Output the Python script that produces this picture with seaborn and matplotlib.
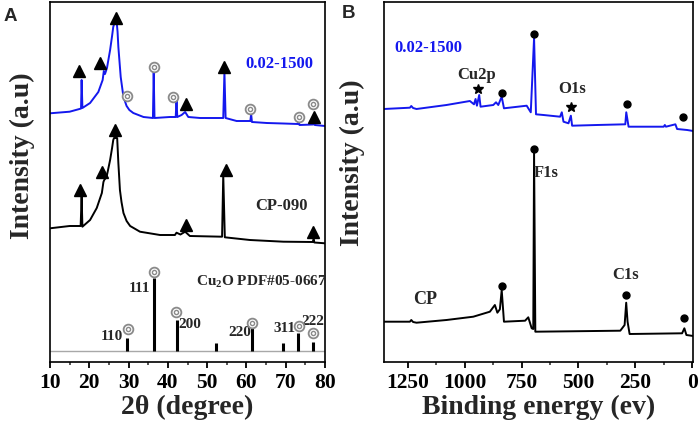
import seaborn as sns
import matplotlib.pyplot as plt
import pandas as pd

# ---- panel A : XRD ----
xrd_blue_2theta = [10, 15, 17.5, 17.9, 18.05, 18.25, 20.2, 22.3, 23.4, 23.7, 24.0, 24.5, 25.3, 25.8,
                   26.1, 26.4, 27.0, 27.2, 27.4, 28.0, 28.7, 29.5, 30.2, 31.2, 33.8, 36.2, 36.4, 36.6,
                   40.5, 42.0, 42.2, 42.4, 43.5, 44.4, 45.2, 48.2, 54.1, 54.4, 54.7, 57.5, 61.0, 61.2,
                   61.4, 65.2, 69.4, 73.1, 73.3, 73.5, 77.0, 77.2, 77.4, 80]
xrd_blue_int = [248.7, 250.3, 253, 253.5, 282, 254, 259, 270, 282, 291, 288, 294, 312, 326,
                335, 339, 339, 330, 315, 285, 265, 256, 252, 249, 245, 244, 290, 244,
                245, 245, 262, 245, 247, 250, 245, 244, 244, 290, 244, 241, 241, 248,
                240, 239, 238.5, 238, 241, 237, 237.5, 242, 237, 236]

xrd_black_2theta = [10, 15, 17.8, 18.05, 18.25, 20.2, 21.9, 23.2, 23.6, 23.8, 24.4, 25.3, 25.8, 26.1,
                    26.3, 27.1, 27.4, 27.8, 28.2, 28.7, 29.5, 30.4, 32.9, 38.0, 41.8, 42.2, 43.2,
                    44.4, 45.6, 53.8, 54.1, 54.5, 60.9, 69.4, 76.9, 77.1, 77.3, 80]
xrd_black_int = [133.7, 136, 136, 165.3, 135.3, 142, 154, 169, 180, 182, 185, 202, 214, 222,
                 224, 224, 199, 172, 160, 149, 141, 136, 130.3, 127, 127, 129.3, 127.5,
                 130.3, 126, 125.3, 187, 124.7, 122, 120.3, 120, 122.7, 119.5, 118.7]

pdf_2theta = [29.5, 36.5, 42.3, 52.3, 61.4, 69.2, 73.0, 76.9]
pdf_int = [24.3, 83.7, 42, 19, 35.3, 19, 29.3, 20.3]
pdf_base = 11
pdf_hkl = ["110", "111", "200", "220", "311", "222"]
pdf_hkl_x = [25.7, 32.9, 45.5, 58.2, 69.8, 76.9]
pdf_hkl_y = [25.3, 74, 37, 29, 34, 40.3]
pdf_circ_x = [29.9, 36.5, 42.0, 61.3, 73.4, 77.0]
pdf_circ_y = [33, 90.3, 49.7, 38.7, 36, 28.7]

blue_tri_x = [17.5, 22.7, 26.7, 44.6, 54.4, 77.2]
blue_tri_y = [291.3, 299.3, 344.5, 258, 295.3, 245.3]
blue_circ_x = [29.7, 36.5, 41.4, 60.9, 73.5, 77.0]
blue_circ_y = [266.3, 295.3, 265.3, 253, 244.7, 257.7]
black_tri_x = [17.6, 23.2, 26.5, 44.6, 54.7, 77.0]
black_tri_y = [172, 190, 232, 137, 192, 130.3]

# ---- panel B : XPS ----
xps_blue_ev = [1357, 1242, 1236, 1228, 1213, 1081, 978, 960, 953, 947, 937, 931, 875, 863, 853,
               838, 828, 728, 710, 695.5, 687, 654, 581, 573.5, 566, 544, 533.6, 528, 419, 294,
               289.7, 279.6, 125, 120, 115, 73.5, 66, 22, -5]
xps_blue_int = [253, 254.3, 256, 254, 253, 257, 261, 257.7, 263, 256.3, 267, 255.3, 257, 259.7, 257,
                265.3, 253.7, 256.3, 249.7, 324, 247.7, 247, 245.3, 249.7, 240.3, 238.7, 246.3, 236.3,
                237, 237.7, 249.7, 235.3, 235.3, 237, 235.3, 237.7, 233, 232, 231]

xps_black_ev = [1357, 1242, 1236, 1228, 1213, 1081, 963, 890, 868, 857, 846, 838, 828, 735, 721,
                706, 699, 695.5, 690, 537, 316, 297, 290, 284, 275, 44, 34, 25, -5]
xps_black_int = [40.3, 40.3, 42, 40, 39.3, 42, 45.3, 50.3, 57, 49.3, 52.7, 72, 40.3, 41.3, 44.7,
                 33.7, 33, 210, 30.3, 30.7, 31.3, 37, 59.3, 40.3, 28, 28.7, 33.7, 27, 26]

xps_blue_star_x = [944, 532]
xps_blue_star_y = [272.7, 255.3]
xps_blue_dot_x = [838, 695.5, 286.7, 39]
xps_blue_dot_y = [269.3, 327.7, 258, 245]
xps_black_dot_x = [838, 694, 290, 34]
xps_black_dot_y = [76, 212.7, 67, 43.7]

BLUE = "#1418ee"
GRAY = "#8a8a8a"

sns.set_theme(style="ticks")
plt.rcParams["font.family"] = ["Liberation Serif", "DejaVu Serif"]
plt.rcParams["font.weight"] = "bold"
plt.rcParams["mathtext.fontset"] = "custom"
plt.rcParams["mathtext.rm"] = "Liberation Serif:bold"
plt.rcParams["mathtext.it"] = "Liberation Serif:bold"
plt.rcParams["mathtext.bf"] = "Liberation Serif:bold"

fig = plt.figure(figsize=(6.99, 4.21), dpi=100)
ax_a = fig.add_axes([50 / 699, 59 / 421, 275 / 699, 360 / 421])
ax_b = fig.add_axes([384 / 699, 59 / 421, 309 / 699, 360 / 421])


def bullseye(ax, xs, ys):
    ax.plot(xs, ys, "o", ms=7, mfc="white", mec=GRAY, mew=1.3, zorder=5)
    ax.plot(xs, ys, "o", ms=3, mfc="white", mec=GRAY, mew=1.0, zorder=6)


# panel A
sns.lineplot(x=xrd_blue_2theta, y=xrd_blue_int, ax=ax_a, color=BLUE, lw=1.4, estimator=None)
sns.lineplot(x=xrd_black_2theta, y=xrd_black_int, ax=ax_a, color="black", lw=1.4, estimator=None)
ax_a.axhline(pdf_base, color="#a8a8a8", lw=1.0)
ax_a.vlines(pdf_2theta, pdf_base, pdf_int, color="black", lw=2.2)
ax_a.plot(blue_tri_x, blue_tri_y, "^", color="black", ms=8.5, zorder=5)
ax_a.plot(black_tri_x, black_tri_y, "^", color="black", ms=8.5, zorder=5)
bullseye(ax_a, blue_circ_x, blue_circ_y)
bullseye(ax_a, pdf_circ_x, pdf_circ_y)
for lab, x, y in zip(pdf_hkl, pdf_hkl_x, pdf_hkl_y):
    ax_a.text(x, y, lab, fontsize=11, fontweight="bold", ha="center", va="center")
ax_a.text(63.9, 80.3, "Cu$_{2}$O PDF#05-0667", fontsize=11, fontweight="bold", ha="center", va="center")
ax_a.text(68.5, 298, "0.02-1500", fontsize=12, fontweight="bold", color=BLUE, ha="center", va="center")
ax_a.text(69, 156, "CP-090", fontsize=12, fontweight="bold", ha="center", va="center")
ax_a.set_xlim(10, 80)
ax_a.set_xticks(range(10, 81, 10))
ax_a.set_xticks(range(15, 80, 10), minor=True)
ax_a.set_xlabel("2θ (degree)", fontsize=20, fontweight="bold", labelpad=1)

# panel B
sns.lineplot(x=xps_blue_ev, y=xps_blue_int, ax=ax_b, color=BLUE, lw=1.4, estimator=None)
sns.lineplot(x=xps_black_ev, y=xps_black_int, ax=ax_b, color="black", lw=1.4, estimator=None)
ax_b.plot(xps_blue_star_x, xps_blue_star_y, "*", color="black", ms=7.5, zorder=5)
ax_b.plot(xps_blue_dot_x, xps_blue_dot_y, "o", color="black", ms=5, zorder=5)
ax_b.plot(xps_black_dot_x, xps_black_dot_y, "o", color="black", ms=5, zorder=5)
ax_b.text(1162, 314.3, "0.02-1500", fontsize=12, fontweight="bold", color=BLUE, ha="center", va="center")
ax_b.text(948, 287, "Cu2p", fontsize=12, fontweight="bold", ha="center", va="center")
ax_b.text(529, 273, "O1s", fontsize=12, fontweight="bold", ha="center", va="center")
ax_b.text(640, 188.7, "F1s", fontsize=12, fontweight="bold", ha="center", va="center")
ax_b.text(294, 87, "C1s", fontsize=12, fontweight="bold", ha="center", va="center")
ax_b.text(1176, 62, "CP", fontsize=13, fontweight="bold", ha="center", va="center")
ax_b.set_xlim(1356, -4)
ax_b.set_xticks([1250, 1000, 750, 500, 250, 0])
ax_b.set_xticks([1125, 875, 625, 375, 125], minor=True)
ax_b.set_xlabel("Binding energy (ev)", fontsize=20, fontweight="bold", labelpad=1)

for ax, lx, ly in [(ax_a, -0.055, 0.572), (ax_b, -0.061, 0.553)]:
    ax.set_ylim(0, 360)
    ax.set_yticks([])
    ax.set_ylabel("Intensity (a.u)", fontsize=20, fontweight="bold")
    ax.yaxis.set_label_coords(lx, ly)
    for s in ax.spines.values():
        s.set_linewidth(1.2)
        s.set_color("black")
    ax.tick_params(axis="x", which="major", direction="out", length=4, width=1.3,
                   labelsize=15.5, pad=4, colors="black")
    ax.tick_params(axis="x", which="minor", direction="out", length=2.5, width=1.1)
    for t in ax.get_xticklabels():
        t.set_fontweight("bold")

fig.text(4 / 699, 1 - 21 / 421, "A", fontsize=13.5, fontweight="bold",
         family=["Liberation Sans", "DejaVu Sans"])
fig.text(342 / 699, 1 - 18.5 / 421, "B", fontsize=13.5, fontweight="bold",
         family=["Liberation Sans", "DejaVu Sans"])

fig.savefig("out.png", dpi=100)
